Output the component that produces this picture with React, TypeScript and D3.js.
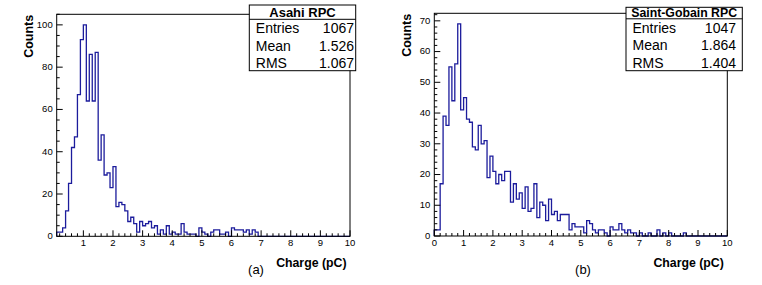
import * as d3 from 'd3';

// bin contents, 0.1 pC wide bins
const asahiStart = 0.1;
const asahiCounts = [
  2, 2, 4, 12, 25, 42, 47, 67, 93,
  100, 64, 86, 64, 87, 36, 48, 29, 30, 23,
  33, 14, 16, 15, 12, 7, 9, 6, 2, 7,
  5, 6, 7, 4, 5, 1, 3, 1, 5, 1,
  2, 1, 1, 6, 2, 1, 1, 1, 0, 4,
  2, 1, 0, 2, 3, 3, 1, 1, 2, 0,
  4, 3, 3, 3, 2, 3, 1, 3, 2, 0,
  0, 0, 0, 0, 0, 0, 0, 0, 0, 0,
  0, 0, 0, 0, 0, 0, 0, 0, 0, 0,
  0, 0, 0, 0, 0, 0, 0, 0, 0, 0,
];

const sgStart = 0;
const sgCounts = [
  2, 2, 17, 39, 36, 55, 44, 56, 69, 41,
  45, 38, 37, 29, 28, 36, 30, 31, 19, 26,
  21, 17, 20, 18, 21, 21, 11, 17, 12, 14,
  9, 16, 8, 9, 17, 6, 11, 10, 5, 12,
  7, 8, 5, 7, 7, 7, 2, 4, 3, 3,
  3, 1, 5, 4, 2, 1, 2, 2, 1, 0,
  3, 2, 2, 4, 2, 1, 2, 1, 1, 0,
  1, 0, 0, 1, 0, 0, 2, 0, 1, 0,
  1, 0, 0, 0, 0, 1, 0, 0, 0, 0,
  0, 0, 0, 0, 0, 0, 0, 0, 0, 0,
];

const statLabels = ['Entries', 'Mean', 'RMS'];
const asahiStats = ['1067', '1.526', '1.067'];
const sgStats = ['1047', '1.864', '1.404'];

const BIN = 0.1;
const FONT = 'Liberation Sans, Arial, Helvetica, sans-serif';
const HIST_COLOR = '#1c1c9c';

interface PanelProps {
  counts: number[];
  start: number;
  xMin: number;
  yMax: number;
  yMajor: number;
  yMinor: number;
  left: number;
  right: number;
  top: number;
  bottom: number;
  box: { x0: number; x1: number; y0: number; sep: number; y1: number; valueX: number };
  title: string;
  titleSize: number;
  stats: string[];
  tag: string;
  tagX: number;
}

const Panel = (p: PanelProps) => {
  const x = d3.scaleLinear().domain([p.xMin, 10]).range([p.left, p.right]);
  const y = d3.scaleLinear().domain([0, p.yMax]).range([p.bottom, p.top]);

  // step outline of the histogram
  const pts: [number, number][] = [[x(p.start), y(0)]];
  p.counts.forEach((c, i) => {
    const b0 = p.start + i * BIN;
    pts.push([x(b0), y(c)], [x(b0 + BIN), y(c)]);
  });
  pts.push([x(p.start + p.counts.length * BIN), y(0)]);
  const path = d3.line()(pts) ?? '';

  const xMajor = d3.range(Math.ceil(p.xMin), 11);
  const xMinor = d3
    .range(Math.ceil(p.xMin * 5 - 1e-9), 51)
    .filter((i) => i % 5 !== 0)
    .map((i) => i / 5);
  const yMajorTicks = d3.range(0, p.yMax + 1e-9, p.yMajor);
  const yMinorTicks = d3
    .range(0, p.yMax + 1e-9, p.yMinor)
    .filter((v) => Math.abs(v / p.yMajor - Math.round(v / p.yMajor)) > 1e-6);

  const rowH = (p.box.y1 - p.box.sep) / 3;

  return (
    <g fontFamily={FONT}>
      <path d={path} fill="none" stroke={HIST_COLOR} strokeWidth={1.3} />
      <rect x={p.left} y={p.top} width={p.right - p.left} height={p.bottom - p.top}
        fill="none" stroke="#000" strokeWidth={1} />
      {xMajor.map((v) => (
        <g key={'xm' + v}>
          <line x1={x(v)} x2={x(v)} y1={p.bottom} y2={p.bottom - 6} stroke="#000" />
          <text x={x(v)} y={p.bottom + 10} fontSize={9.5} textAnchor="middle">{v}</text>
        </g>
      ))}
      {xMinor.map((v) => (
        <line key={'xn' + v} x1={x(v)} x2={x(v)} y1={p.bottom} y2={p.bottom - 3} stroke="#000" />
      ))}
      {yMajorTicks.map((v) => (
        <g key={'ym' + v}>
          <line x1={p.left} x2={p.left + 6} y1={y(v)} y2={y(v)} stroke="#000" />
          <text x={p.left - 4} y={y(v)} dy="0.3em" fontSize={9.5} textAnchor="end">{v}</text>
        </g>
      ))}
      {yMinorTicks.map((v) => (
        <line key={'yn' + v} x1={p.left} x2={p.left + 3} y1={y(v)} y2={y(v)} stroke="#000" />
      ))}
      <text x={p.right - 3.5} y={p.bottom + 30.5} fontSize={12.3} fontWeight="bold" textAnchor="end">
        Charge (pC)
      </text>
      <text transform={`translate(${p.left - 23.5},${p.top + 0.5}) rotate(-90)`} fontSize={12.5}
        fontWeight="bold" textAnchor="end">
        Counts
      </text>
      <text x={p.tagX} y={p.bottom + 38} fontSize={13} textAnchor="middle">{p.tag}</text>

      <rect x={p.box.x0} y={p.box.y0} width={p.box.x1 - p.box.x0} height={p.box.y1 - p.box.y0}
        fill="#fff" stroke="#000" strokeWidth={1} />
      <line x1={p.box.x0} x2={p.box.x1} y1={p.box.sep} y2={p.box.sep} stroke="#000" />
      <text x={(p.box.x0 + p.box.x1) / 2} y={p.box.sep - 2} fontSize={p.titleSize} fontWeight="bold"
        textAnchor="middle">
        {p.title}
      </text>
      {statLabels.map((s, i) => (
        <g key={s}>
          <text x={p.box.x0 + 6.5} y={p.box.sep + rowH * (i + 1) - 3} fontSize={14}>{s}</text>
          <text x={p.box.valueX} y={p.box.sep + rowH * (i + 1) - 3} fontSize={14} textAnchor="end">
            {p.stats[i]}
          </text>
        </g>
      ))}
    </g>
  );
};

const App = () => (
  <svg width={762} height={285} style={{ position: 'absolute', left: 0, top: 0, background: '#fff' }}>
    <Panel counts={asahiCounts} start={asahiStart} xMin={0.1} yMax={105} yMajor={20} yMinor={5}
      left={56.7} right={350} top={14.3} bottom={236.3}
      box={{ x0: 249.3, x1: 355.7, y0: 5, sep: 19.3, y1: 70.7, valueX: 354 }}
      title="Asahi RPC" titleSize={13} stats={asahiStats} tag="(a)" tagX={256} />
    <Panel counts={sgCounts} start={sgStart} xMin={0} yMax={72.45} yMajor={10} yMinor={2}
      left={434.3} right={727.3} top={13.3} bottom={236}
      box={{ x0: 626, x1: 742.3, y0: 7.3, sep: 18.8, y1: 70.7, valueX: 736 }}
      title="Saint-Gobain RPC" titleSize={12.3} stats={sgStats} tag="(b)" tagX={583} />
  </svg>
);

export default App;
